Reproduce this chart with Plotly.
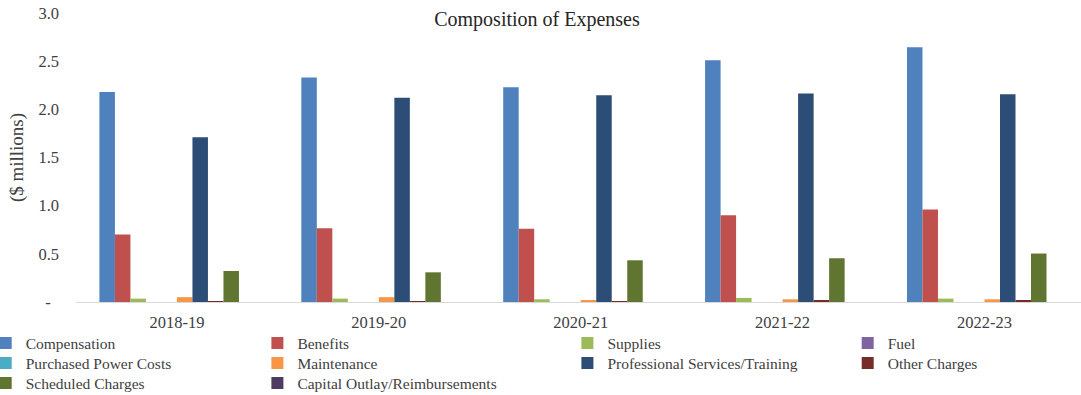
import plotly.graph_objects as go

# Fiscal years on the category axis
years = ["2018-19", "2019-20", "2020-21", "2021-22", "2022-23"]

# Expense categories ($ millions) by fiscal year
compensation = [2.18, 2.33, 2.23, 2.51, 2.645]
benefits = [0.70, 0.765, 0.76, 0.90, 0.96]
supplies = [0.035, 0.035, 0.028, 0.042, 0.035]
fuel = [0, 0, 0, 0, 0]
purchased_power = [0, 0, 0, 0, 0]
maintenance = [0.05, 0.05, 0.014, 0.028, 0.028]
professional_services = [1.71, 2.12, 2.146, 2.164, 2.157]
other_charges = [0.01, 0.01, 0.01, 0.02, 0.02]
scheduled_charges = [0.322, 0.308, 0.433, 0.454, 0.503]
capital_outlay = [0, 0, 0, 0, 0]

y_ticks = [0, 0.5, 1.0, 1.5, 2.0, 2.5, 3.0]
y_tick_text = ["-\u00a0\u00a0", "0.5", "1.0", "1.5", "2.0", "2.5", "3.0"]

series = [
    ("Compensation", compensation, "#4F81BD"),
    ("Benefits", benefits, "#C0504D"),
    ("Supplies", supplies, "#9BBB59"),
    ("Fuel", fuel, "#8064A2"),
    ("Purchased Power Costs", purchased_power, "#4BACC6"),
    ("Maintenance", maintenance, "#F79646"),
    ("Professional Services/Training", professional_services, "#2C4D75"),
    ("Other Charges", other_charges, "#772C2A"),
    ("Scheduled Charges", scheduled_charges, "#5F7530"),
    ("Capital Outlay/Reimbursements", capital_outlay, "#4D3B62"),
]

W, H = 1081, 395
ML, MR, MT, MB = 76, 0, 13, 93
PW, PH = W - ML - MR, H - MT - MB
FONT = "Liberation Serif, Times New Roman, serif"
TEXT_COLOR = "#404040"

# legend grid: 4 columns of text start positions, 3 rows of centres (px)
col_text_x = [26, 297.7, 607.7, 888]
row_center_y = [343.3, 363.3, 383.3]

fig = go.Figure()
layout_legends = {}
for i, (name, vals, color) in enumerate(series):
    key = "legend" if i == 0 else f"legend{i + 1}"
    fig.add_trace(go.Bar(
        x=years, y=vals, name=name,
        marker=dict(color=color, line=dict(width=0)),
        legend=key, showlegend=True,
    ))
    col, row = i % 4, i // 4
    layout_legends[key] = dict(
        xref="paper", yref="paper",
        x=(col_text_x[col] - 40.3 - ML) / PW,
        y=(H - MB - row_center_y[row]) / PH,
        xanchor="left", yanchor="middle",
        bgcolor="rgba(0,0,0,0)",
        font=dict(family=FONT, size=15.5, color=TEXT_COLOR),
    )

fig.update_layout(
    width=W, height=H,
    showlegend=True,
    margin=dict(l=ML, r=MR, t=MT, b=MB, autoexpand=False),
    paper_bgcolor="white", plot_bgcolor="white",
    barmode="group", bargap=0.232, bargroupgap=0,
    title=dict(
        text="Composition of Expenses",
        x=537 / W, xref="container", xanchor="center",
        y=1 - 19 / H, yref="container", yanchor="middle",
        font=dict(family=FONT, size=20, color="#262626"),
    ),
    xaxis=dict(
        type="category", range=[-0.5, 4.478],
        showline=True, linecolor="#d9d9d9", linewidth=1,
        showgrid=False, zeroline=False, ticks="",
        tickfont=dict(family=FONT, size=16.5, color=TEXT_COLOR),
        ticklabelstandoff=5,
    ),
    yaxis=dict(
        range=[0, 3.0], tickvals=y_ticks, ticktext=y_tick_text,
        showline=False, showgrid=False, zeroline=False, ticks="",
        tickfont=dict(family=FONT, size=16.5, color=TEXT_COLOR),
        ticklabelstandoff=16,
        title=dict(text="($ millions)", standoff=9,
                   font=dict(family=FONT, size=19, color=TEXT_COLOR)),
    ),
    font=dict(family=FONT, color=TEXT_COLOR),
    **layout_legends,
)

fig.write_html("out.html")
